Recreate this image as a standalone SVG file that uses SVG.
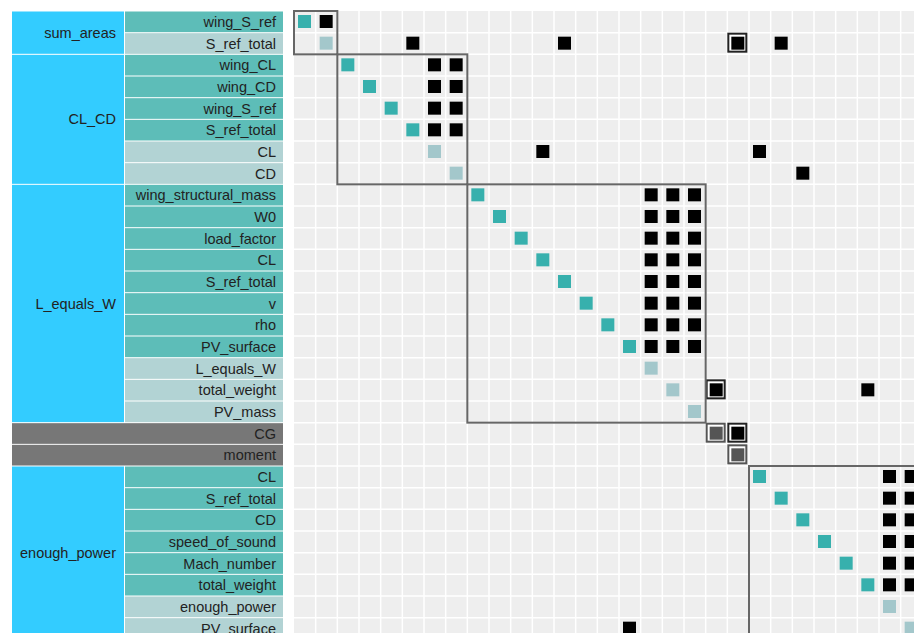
<svg xmlns="http://www.w3.org/2000/svg" width="914" height="633" viewBox="0 0 914 633">
<style>
text{font-family:"Liberation Sans",Arial,sans-serif;font-size:14.5px;fill:#222;text-anchor:end}
.grp{fill:#33ccff}
.li{fill:#5dbdb8}
.lo{fill:#b2d3d4}
.lg{fill:#777777}
.in{fill:#37b0ad}
.out{fill:#a3c7cb}
.blk{fill:#000}
.gry{fill:#555}
.ob{fill:#fff;stroke:#222;stroke-width:2}
.og{fill:#fff;stroke:#555;stroke-width:2}
.box{fill:none;stroke:#666;stroke-width:2}
</style>
<rect width="914" height="633" fill="#fff"/>
<g id="labels">
<g id="node-sum_areas"><rect class="grp" x="12" y="11.5" width="112" height="42.3"/><text x="116" y="37.67">sum_areas</text></g>
<g id="node-sum_areas-wing_S_ref"><rect class="li" x="125" y="11.5" width="158" height="20.67"/><text x="276" y="26.83">wing_S_ref</text></g>
<g id="node-sum_areas-S_ref_total"><rect class="lo" x="125" y="33.17" width="158" height="20.67"/><text x="276" y="48.5">S_ref_total</text></g>
<g id="node-CL_CD"><rect class="grp" x="12" y="54.83" width="112" height="129"/><text x="116" y="124.33">CL_CD</text></g>
<g id="node-CL_CD-wing_CL"><rect class="li" x="125" y="54.83" width="158" height="20.67"/><text x="276" y="70.17">wing_CL</text></g>
<g id="node-CL_CD-wing_CD"><rect class="li" x="125" y="76.5" width="158" height="20.67"/><text x="276" y="91.83">wing_CD</text></g>
<g id="node-CL_CD-wing_S_ref"><rect class="li" x="125" y="98.17" width="158" height="20.67"/><text x="276" y="113.5">wing_S_ref</text></g>
<g id="node-CL_CD-S_ref_total"><rect class="li" x="125" y="119.83" width="158" height="20.67"/><text x="276" y="135.17">S_ref_total</text></g>
<g id="node-CL_CD-CL"><rect class="lo" x="125" y="141.5" width="158" height="20.67"/><text x="276" y="156.83">CL</text></g>
<g id="node-CL_CD-CD"><rect class="lo" x="125" y="163.17" width="158" height="20.67"/><text x="276" y="178.5">CD</text></g>
<g id="node-L_equals_W"><rect class="grp" x="12" y="184.83" width="112" height="237.3"/><text x="116" y="308.5">L_equals_W</text></g>
<g id="node-LW-wing_structural_mass"><rect class="li" x="125" y="184.83" width="158" height="20.67"/><text x="276" y="200.17">wing_structural_mass</text></g>
<g id="node-LW-W0"><rect class="li" x="125" y="206.5" width="158" height="20.67"/><text x="276" y="221.83">W0</text></g>
<g id="node-LW-load_factor"><rect class="li" x="125" y="228.17" width="158" height="20.67"/><text x="276" y="243.5">load_factor</text></g>
<g id="node-LW-CL"><rect class="li" x="125" y="249.83" width="158" height="20.67"/><text x="276" y="265.17">CL</text></g>
<g id="node-LW-S_ref_total"><rect class="li" x="125" y="271.5" width="158" height="20.67"/><text x="276" y="286.83">S_ref_total</text></g>
<g id="node-LW-v"><rect class="li" x="125" y="293.17" width="158" height="20.67"/><text x="276" y="308.5">v</text></g>
<g id="node-LW-rho"><rect class="li" x="125" y="314.83" width="158" height="20.67"/><text x="276" y="330.17">rho</text></g>
<g id="node-LW-PV_surface"><rect class="li" x="125" y="336.5" width="158" height="20.67"/><text x="276" y="351.83">PV_surface</text></g>
<g id="node-LW-L_equals_W"><rect class="lo" x="125" y="358.17" width="158" height="20.67"/><text x="276" y="373.5">L_equals_W</text></g>
<g id="node-LW-total_weight"><rect class="lo" x="125" y="379.83" width="158" height="20.67"/><text x="276" y="395.17">total_weight</text></g>
<g id="node-LW-PV_mass"><rect class="lo" x="125" y="401.5" width="158" height="20.67"/><text x="276" y="416.83">PV_mass</text></g>
<g id="node-CG"><rect class="lg" x="12" y="423.17" width="271" height="20.67"/><text x="276" y="438.5">CG</text></g>
<g id="node-moment"><rect class="lg" x="12" y="444.83" width="271" height="20.67"/><text x="276" y="460.17">moment</text></g>
<g id="node-enough_power"><rect class="grp" x="12" y="466.5" width="112" height="172.3"/><text x="116" y="557.67">enough_power</text></g>
<g id="node-EP-CL"><rect class="li" x="125" y="466.5" width="158" height="20.67"/><text x="276" y="481.83">CL</text></g>
<g id="node-EP-S_ref_total"><rect class="li" x="125" y="488.17" width="158" height="20.67"/><text x="276" y="503.5">S_ref_total</text></g>
<g id="node-EP-CD"><rect class="li" x="125" y="509.83" width="158" height="20.67"/><text x="276" y="525.17">CD</text></g>
<g id="node-EP-speed_of_sound"><rect class="li" x="125" y="531.5" width="158" height="20.67"/><text x="276" y="546.83">speed_of_sound</text></g>
<g id="node-EP-Mach_number"><rect class="li" x="125" y="553.17" width="158" height="20.67"/><text x="276" y="568.5">Mach_number</text></g>
<g id="node-EP-total_weight"><rect class="li" x="125" y="574.83" width="158" height="20.67"/><text x="276" y="590.17">total_weight</text></g>
<g id="node-EP-enough_power"><rect class="lo" x="125" y="596.5" width="158" height="20.67"/><text x="276" y="611.83">enough_power</text></g>
<g id="node-EP-PV_surface"><rect class="lo" x="125" y="618.17" width="158" height="20.67"/><text x="276" y="633.5">PV_surface</text></g>
</g>
<g id="matrix">
<rect x="294" y="11" width="620" height="622" fill="#eeeeee"/>
<path stroke="#fff" stroke-width="1.5" fill="none" d="M315.67 11V633M337.33 11V633M359 11V633M380.67 11V633M402.33 11V633M424 11V633M445.67 11V633M467.33 11V633M489 11V633M510.67 11V633M532.33 11V633M554 11V633M575.67 11V633M597.33 11V633M619 11V633M640.67 11V633M662.33 11V633M684 11V633M705.67 11V633M727.33 11V633M749 11V633M770.67 11V633M792.33 11V633M814 11V633M835.67 11V633M857.33 11V633M879 11V633M900.67 11V633M294 32.67H914M294 54.33H914M294 76H914M294 97.67H914M294 119.33H914M294 141H914M294 162.67H914M294 184.33H914M294 206H914M294 227.67H914M294 249.33H914M294 271H914M294 292.67H914M294 314.33H914M294 336H914M294 357.67H914M294 379.33H914M294 401H914M294 422.67H914M294 444.33H914M294 466H914M294 487.67H914M294 509.33H914M294 531H914M294 552.67H914M294 574.33H914M294 596H914M294 617.67H914"/>
<g id="cell-outlines">
<rect class="ob" x="728.33" y="33.67" width="18" height="18"/>
<rect class="ob" x="706.67" y="380.33" width="18" height="18"/>
<rect class="og" x="706.67" y="423.67" width="18" height="18"/>
<rect class="ob" x="728.33" y="423.67" width="18" height="18"/>
<rect class="og" x="728.33" y="445.33" width="18" height="18"/>
</g>
<g id="diagonal">
<rect class="in" x="298" y="15" width="13" height="13"/>
<rect class="out" x="319.67" y="36.67" width="13" height="13"/>
<rect class="in" x="341.33" y="58.33" width="13" height="13"/>
<rect class="in" x="363" y="80" width="13" height="13"/>
<rect class="in" x="384.67" y="101.67" width="13" height="13"/>
<rect class="in" x="406.33" y="123.33" width="13" height="13"/>
<rect class="out" x="428" y="145" width="13" height="13"/>
<rect class="out" x="449.67" y="166.67" width="13" height="13"/>
<rect class="in" x="471.33" y="188.33" width="13" height="13"/>
<rect class="in" x="493" y="210" width="13" height="13"/>
<rect class="in" x="514.67" y="231.67" width="13" height="13"/>
<rect class="in" x="536.33" y="253.33" width="13" height="13"/>
<rect class="in" x="558" y="275" width="13" height="13"/>
<rect class="in" x="579.67" y="296.67" width="13" height="13"/>
<rect class="in" x="601.33" y="318.33" width="13" height="13"/>
<rect class="in" x="623" y="340" width="13" height="13"/>
<rect class="out" x="644.67" y="361.67" width="13" height="13"/>
<rect class="out" x="666.33" y="383.33" width="13" height="13"/>
<rect class="out" x="688" y="405" width="13" height="13"/>
<rect class="gry" x="709.67" y="426.67" width="13" height="13"/>
<rect class="gry" x="731.33" y="448.33" width="13" height="13"/>
<rect class="in" x="753" y="470" width="13" height="13"/>
<rect class="in" x="774.67" y="491.67" width="13" height="13"/>
<rect class="in" x="796.33" y="513.33" width="13" height="13"/>
<rect class="in" x="818" y="535" width="13" height="13"/>
<rect class="in" x="839.67" y="556.67" width="13" height="13"/>
<rect class="in" x="861.33" y="578.33" width="13" height="13"/>
<rect class="out" x="883" y="600" width="13" height="13"/>
<rect class="out" x="904.67" y="621.67" width="13" height="13"/>
</g>
<g id="connectors">
<rect class="blk" x="319.67" y="15" width="13" height="13"/>
<rect class="blk" x="406.33" y="36.67" width="13" height="13"/>
<rect class="blk" x="558" y="36.67" width="13" height="13"/>
<rect class="blk" x="731.33" y="36.67" width="13" height="13"/>
<rect class="blk" x="774.67" y="36.67" width="13" height="13"/>
<rect class="blk" x="428" y="58.33" width="13" height="13"/>
<rect class="blk" x="449.67" y="58.33" width="13" height="13"/>
<rect class="blk" x="428" y="80" width="13" height="13"/>
<rect class="blk" x="449.67" y="80" width="13" height="13"/>
<rect class="blk" x="428" y="101.67" width="13" height="13"/>
<rect class="blk" x="449.67" y="101.67" width="13" height="13"/>
<rect class="blk" x="428" y="123.33" width="13" height="13"/>
<rect class="blk" x="449.67" y="123.33" width="13" height="13"/>
<rect class="blk" x="536.33" y="145" width="13" height="13"/>
<rect class="blk" x="753" y="145" width="13" height="13"/>
<rect class="blk" x="796.33" y="166.67" width="13" height="13"/>
<rect class="blk" x="644.67" y="188.33" width="13" height="13"/><rect class="blk" x="666.33" y="188.33" width="13" height="13"/><rect class="blk" x="688" y="188.33" width="13" height="13"/>
<rect class="blk" x="644.67" y="210" width="13" height="13"/><rect class="blk" x="666.33" y="210" width="13" height="13"/><rect class="blk" x="688" y="210" width="13" height="13"/>
<rect class="blk" x="644.67" y="231.67" width="13" height="13"/><rect class="blk" x="666.33" y="231.67" width="13" height="13"/><rect class="blk" x="688" y="231.67" width="13" height="13"/>
<rect class="blk" x="644.67" y="253.33" width="13" height="13"/><rect class="blk" x="666.33" y="253.33" width="13" height="13"/><rect class="blk" x="688" y="253.33" width="13" height="13"/>
<rect class="blk" x="644.67" y="275" width="13" height="13"/><rect class="blk" x="666.33" y="275" width="13" height="13"/><rect class="blk" x="688" y="275" width="13" height="13"/>
<rect class="blk" x="644.67" y="296.67" width="13" height="13"/><rect class="blk" x="666.33" y="296.67" width="13" height="13"/><rect class="blk" x="688" y="296.67" width="13" height="13"/>
<rect class="blk" x="644.67" y="318.33" width="13" height="13"/><rect class="blk" x="666.33" y="318.33" width="13" height="13"/><rect class="blk" x="688" y="318.33" width="13" height="13"/>
<rect class="blk" x="644.67" y="340" width="13" height="13"/><rect class="blk" x="666.33" y="340" width="13" height="13"/><rect class="blk" x="688" y="340" width="13" height="13"/>
<rect class="blk" x="709.67" y="383.33" width="13" height="13"/>
<rect class="blk" x="861.33" y="383.33" width="13" height="13"/>
<rect class="blk" x="731.33" y="426.67" width="13" height="13"/>
<rect class="blk" x="883" y="470" width="13" height="13"/><rect class="blk" x="904.67" y="470" width="13" height="13"/>
<rect class="blk" x="883" y="491.67" width="13" height="13"/><rect class="blk" x="904.67" y="491.67" width="13" height="13"/>
<rect class="blk" x="883" y="513.33" width="13" height="13"/><rect class="blk" x="904.67" y="513.33" width="13" height="13"/>
<rect class="blk" x="883" y="535" width="13" height="13"/><rect class="blk" x="904.67" y="535" width="13" height="13"/>
<rect class="blk" x="883" y="556.67" width="13" height="13"/><rect class="blk" x="904.67" y="556.67" width="13" height="13"/>
<rect class="blk" x="883" y="578.33" width="13" height="13"/><rect class="blk" x="904.67" y="578.33" width="13" height="13"/>
<rect class="blk" x="623" y="621.67" width="13" height="13"/>
</g>
<g id="group-boxes">
<rect class="box" x="294" y="11" width="43.33" height="43.33"/>
<rect class="box" x="337.33" y="54.33" width="130" height="130"/>
<rect class="box" x="467.33" y="184.33" width="238.33" height="238.33"/>
<rect class="box" x="749" y="466" width="260" height="260"/>
</g>
</g>
</svg>
